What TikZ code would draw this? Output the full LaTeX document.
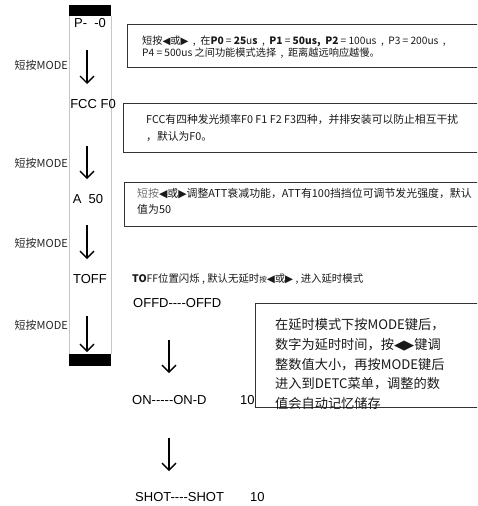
\documentclass[tikz,border=0pt]{standalone}
\usepackage{fontspec}
\setmainfont{Liberation Sans}[Ligatures=ResetAll]
\newfontfamily\cjk{Noto Sans CJK SC}
\newfontfamily\symf{DejaVu Sans}
\usetikzlibrary{arrows.meta}
\newcommand\tril{{\symf ◀}}
\newcommand\trir{{\symf ▶}}
\newcommand\fs[2]{\fontsize{#1}{#2}\selectfont}
\newcommand\hy{{-}}
\newcommand\eq{\hspace{2.2pt}=\hspace{2.2pt}}
\newcommand\cm{\hspace{4.5pt},\hspace{4.5pt}}
\begin{document}
\begin{tikzpicture}[x=1pt,y=-1pt,
  lbl/.style={font=\fs{13}{15}, inner sep=0pt},
  modelbl/.style={font=\cjk\fs{11}{13}, inner sep=0pt, anchor=east, text=black!85},
  darr/.style={line width=1.3pt, -{Straight Barb[length=7pt,width=14pt]}},
  infobox/.style={draw=black!80, line width=1pt},
  boxtext/.style={inner sep=0pt, anchor=west, align=left, text=black!90}]
\clip (0,0) rectangle (477,506);
\fill[white] (0,0) rectangle (477,506);
% column
\draw[black!22, line width=0.9pt] (69,16) -- (69,354) (111,16) -- (111,354);
\fill[black] (69,5) rectangle (111,16);
\fill[black] (69,354) rectangle (111,366);
% column labels
\node[lbl] (p0) at (90,23) {P\hy\ \ \hy 0};
\node[lbl] (fcc) at (93,104) {FCC F0};
\node[lbl] (a50) at (88,199) {A\ \ 50};
\node[lbl] (toff) at (90,279) {TOFF};
% arrows in column
\coordinate (a1s) at (87,50); \coordinate (a1e) at (87,84);
\coordinate (a2s) at (87,146); \coordinate (a2e) at (87,179);
\coordinate (a3s) at (87,225); \coordinate (a3e) at (87,259);
\coordinate (a4s) at (87,316); \coordinate (a4e) at (87,352);
\draw[darr] (a1s) -- (a1e);
\draw[darr] (a2s) -- (a2e);
\draw[darr] (a3s) -- (a3e);
\draw[darr] (a4s) -- (a4e);
\node[modelbl] (m1) at (68,65) {短按MODE};
\node[modelbl] (m2) at (68,163) {短按MODE};
\node[modelbl] (m3) at (68,243) {短按MODE};
\node[modelbl] (m4) at (68,325) {短按MODE};
% info boxes
\draw[infobox] (127,24) rectangle (495,67);
\node[boxtext, font=\cjk\fs{10.2}{12.5}] (t1) at (142,47)
  {短按\tril 或\trir\cm 在\textbf{P0}\eq\textbf{25}u\textbf{s}\cm\textbf{P1}\eq\textbf{50us,\ \ P2}\eq 100us\cm P3\eq 200us\cm\\
   P4\eq 500us 之间功能模式选择\cm 距离越远响应越慢。};
\draw[infobox] (123,103) rectangle (495,152);
\node[boxtext, font=\cjk\fs{10.8}{17}] (t2) at (146,128.5)
  {FCC有四种发光频率F0 F1 F2 F3四种，并排安装可以防止相互干扰\\
   ，默认为F0。};
\draw[infobox] (124,182) rectangle (495,226);
\node[boxtext, font=\cjk\fs{10.9}{16}] (t3) at (137,201)
  {{\color{black!55}短按}\tril 或\trir 调整ATT衰减功能，ATT有100挡挡位可调节发光强度，默认\\
   值为50};
% TOFF line
\node[boxtext, font=\cjk\fs{10.4}{12}] (tofft) at (132,279)
  {\textbf{TO}FF位置闪烁\ ,\ 默认无延时{\fs{7.5}{8}按}\tril 或\trir\ ,\ 进入延时模式};
% delay sequence
\node[lbl, anchor=west] (offd) at (133,303) {OFFD\hy\hy\hy\hy OFFD};
\node[lbl, anchor=west] (ond) at (132,400) {ON\hy\hy\hy\hy\hy ON\hy D};
\node[lbl, anchor=west] (ond10) at (240,400) {10};
\node[lbl, anchor=west] (shot) at (135,497) {SHOT\hy\hy\hy\hy SHOT};
\node[lbl, anchor=west] (shot10) at (250,497) {10};
\coordinate (b1s) at (169,340); \coordinate (b1e) at (169,373);
\coordinate (b2s) at (169,438); \coordinate (b2e) at (169,471);
\draw[darr] (b1s) -- (b1e);
\draw[darr] (b2s) -- (b2e);
% delay box
\draw[infobox] (255,303) rectangle (495,407);
\node[boxtext, font=\cjk\fs{13.2}{19.7}] (t4) at (275,364)
  {在延时模式下按MODE键后，\\
   数字为延时时间，按\tril\trir 键调\\
   整数值大小，再按MODE键后\\
   进入到DETC菜单，调整的数\\
   值会自动记忆储存};
\end{tikzpicture}
\end{document}
